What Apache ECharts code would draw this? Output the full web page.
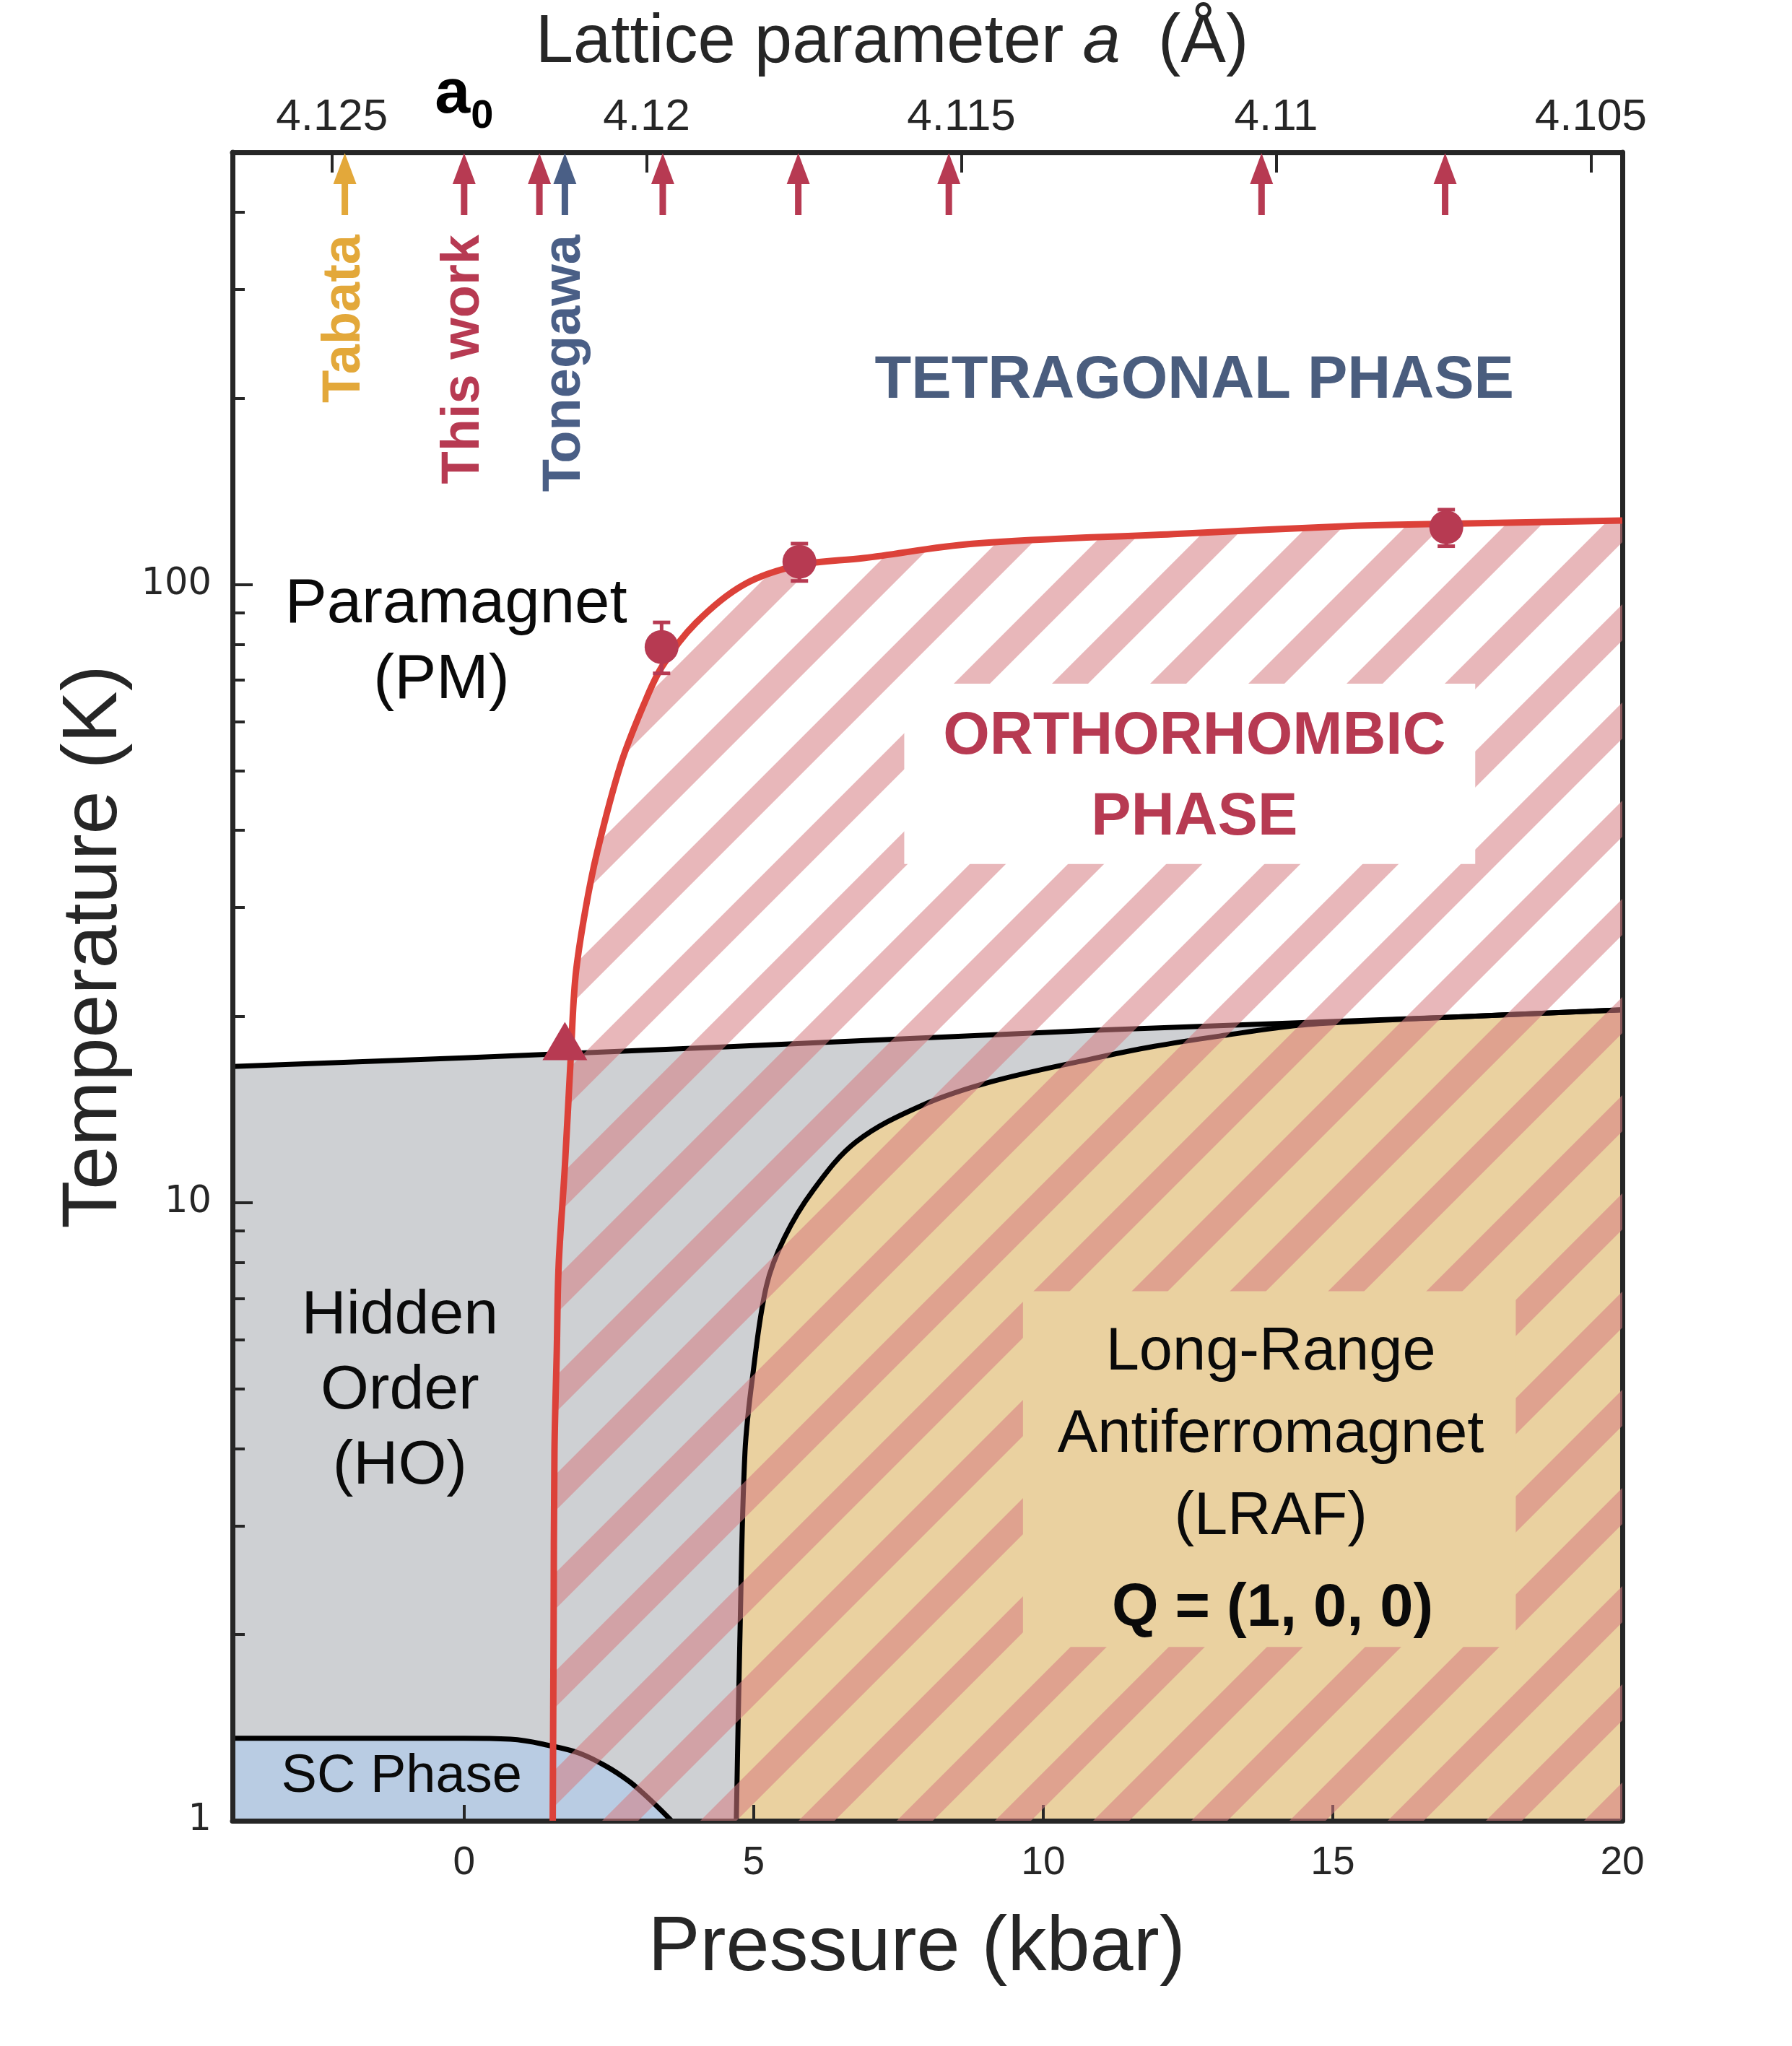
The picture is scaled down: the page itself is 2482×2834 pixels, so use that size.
<!DOCTYPE html>
<html lang="en">
<head>
<meta charset="utf-8">
<title>Pressure - temperature phase diagram</title>
<script src="https://cdn.jsdelivr.net/npm/echarts@6.0.0/dist/echarts.min.js"></script>
<style>
  html, body { margin: 0; padding: 0; background: #ffffff; }
  #chart { width: 2482px; height: 2834px; }
</style>
</head>
<body>
<div id="chart"></div>
<script>
// ---- data: pressure in kbar, temperature in K ----
const pressureRange = [-4, 20];
const temperatureRange = [1, 500];

const pressureTicks = [0, 5, 10, 15, 20];
const latticeTicks = [4.125, 4.12, 4.115, 4.11, 4.105];
const temperatureTicks = [1, 10, 100];
const temperatureMinorTicks = [2, 3, 4, 5, 6, 7, 8, 9, 20, 30, 40, 50, 60, 70, 80, 90, 200, 300, 400];

// lattice parameter a (Å) at zero pressure and its change per kbar
const latticeAtZero = 4.1229;
const latticePerKbar = -0.00092;

// phase boundaries
const hiddenOrderLine = [[-4, 16.6], [0, 17.15], [4.45, 17.85], [6.44, 18.2], [10.9, 19.0], [17.1, 19.96], [20, 20.5]];
const antiferroLine = [[4.70, 1.0], [4.76, 1.93], [4.85, 3.95], [4.99, 5.31], [5.22, 7.33], [5.53, 8.77], [6.03, 10.48],
  [6.77, 12.54], [7.89, 14.34], [9.1, 15.68], [10.8, 17.05], [11.92, 17.9], [13.16, 18.66], [14.4, 19.35],
  [15.5, 19.65], [17.1, 19.96], [20, 20.5]];
const superconductLine = [[-4, 1.36], [0, 1.36], [0.8, 1.355], [1.53, 1.32], [2.0, 1.285], [2.46, 1.224], [2.84, 1.16],
  [3.08, 1.11], [3.35, 1.051], [3.58, 1.0]];
const orthorhombicLine = [[1.53, 1.0], [1.545, 2.0], [1.56, 3.95], [1.60, 5.75], [1.633, 7.94], [1.738, 11.36],
  [1.841, 17.16], [1.924, 23.24], [2.09, 29.6], [2.30, 37], [2.70, 51], [3.09, 63.5], [3.42, 73.7], [4.0, 86.6],
  [4.83, 99.9], [5.78, 107.4], [6.9, 110.3], [8.81, 116.4], [12.25, 120.6], [15.4, 124.4], [17, 125.3], [20, 126.9]];

// measured transitions
const orthorhombicPoints = [[3.41, 79.2], [5.79, 108.8], [16.96, 123.7]];
const orthorhombicErrors = [[71.8, 86.8], [101.3, 116.4], [115.3, 132.1]];
const hiddenOrderOnset = [[1.74, 18.25]];

// pressures marked by arrows on the top axis, and where each came from
const arrowPressures = [-2.06, 0, 1.3, 1.74, 3.43, 5.77, 8.37, 13.77, 16.94];
const arrowSources = ['Tabata', 'This work', 'This work', 'Tonegawa', 'This work', 'This work', 'This work', 'This work', 'This work'];
const sourceNames = ['Tabata', 'This work', 'Tonegawa'];
const sourcePressures = [-2.06, 0, 1.74];

// blank boxes behind the two phase names
const orthorhombicLabelBox = [[7.6, 35.3], [17.46, 69.1]];
const antiferroLabelBox = [[9.65, 1.91], [18.16, 7.19]];

// ---- styles ----
const FONT = '"Liberation Sans", Arial, Helvetica, sans-serif';
const AXIS = '#262626';
const colors = {
  ho: '#CED0D3',
  lraf: '#EAD1A0',
  sc: '#B9CCE3',
  stripe: 'rgba(213,124,130,0.55)',
  orthoLine: '#DC4139',
  point: '#B73A52',
  tetra: '#4A5D7E',
  tabata: '#E3A83A',
  tonegawa: '#4A5F86'
};
const sourceColors = { 'Tabata': colors.tabata, 'This work': colors.point, 'Tonegawa': colors.tonegawa };

function latticeAt(p) {
  return latticeAtZero + latticePerKbar * p;
}

// diagonal stripes, repeated from the page origin
function hatchPattern() {
  const period = 136, stripe = 50, offset = 92;
  const c = document.createElement('canvas');
  c.width = c.height = period;
  const g = c.getContext('2d');
  g.strokeStyle = colors.stripe;
  g.lineWidth = stripe / Math.SQRT2;
  for (let k = -1; k <= 2; k++) {
    const s = offset + stripe / 2 + k * period;
    g.beginPath();
    g.moveTo(s + 30, -30);
    g.lineTo(s - period - 30, period + 30);
    g.stroke();
  }
  return { image: c, repeat: 'repeat' };
}

function boxSeries(box, fill, z) {
  const lo = box[0], hi = box[1];
  const pts = [[lo[0], lo[1]], [hi[0], lo[1]], [hi[0], hi[1]], [lo[0], hi[1]]];
  return {
    type: 'custom', silent: true, z: z,
    data: [pts[0]],
    renderItem: function (params, api) {
      return {
        type: 'polygon',
        shape: { points: pts.map(function (p) { return api.coord(p); }) },
        style: { fill: fill }
      };
    }
  };
}

// a boundary with the region under it filled down to the bottom of the plot
function phaseSeries(points, lineColor, lineWidth, fill, smooth, z) {
  return {
    type: 'line', silent: true, z: z, data: points,
    symbol: 'none', showSymbol: false, smooth: smooth,
    lineStyle: { color: lineColor, width: lineWidth, join: 'round' },
    areaStyle: { color: fill, opacity: 1, origin: 'start' }
  };
}

const P_MIN = pressureRange[0], P_MAX = pressureRange[1];
const T_MIN = temperatureRange[0], T_MAX = temperatureRange[1];

const annotations = [
  { text: 'TETRAGONAL PHASE', at: [12.61, 213], font: 'bold 83px ' + FONT, color: colors.tetra },
  { text: 'ORTHORHOMBIC\nPHASE', at: [12.61, 48.75], font: 'bold 83px ' + FONT, color: colors.point, lineHeight: 112 },
  { text: 'Paramagnet', at: [-0.14, 92.6], font: '87px ' + FONT, color: '#0a0a0a' },
  { text: '(PM)', at: [-0.39, 69.9], font: '87px ' + FONT, color: '#0a0a0a' },
  { text: 'Hidden\nOrder\n(HO)', at: [-1.11, 4.95], font: '86px ' + FONT, color: '#0a0a0a', lineHeight: 104 },
  { text: 'SC Phase', at: [-1.08, 1.175], font: '74px ' + FONT, color: '#0a0a0a' },
  { text: 'Long-Range\nAntiferromagnet\n(LRAF)', at: [13.93, 4.2], font: '83px ' + FONT, color: '#0a0a0a', lineHeight: 114 },
  { text: 'Q = (1, 0, 0)', at: [13.96, 2.196], font: 'bold 83px ' + FONT, color: '#0a0a0a' }
];

function textEl(x, y, text, font, color, extra) {
  const style = {
    text: text, font: font, fill: color,
    align: 'center', verticalAlign: 'middle', textAlign: 'center', textVerticalAlign: 'middle'
  };
  if (extra && extra.lineHeight) style.lineHeight = extra.lineHeight;
  if (extra && extra.align) { style.align = extra.align; style.textAlign = extra.align; }
  return { type: 'text', x: x, y: y, rotation: (extra && extra.rotation) || 0, style: style };
}

const chart = echarts.init(document.getElementById('chart'), null, { renderer: 'canvas' });

const option = {
  animation: false,
  backgroundColor: '#ffffff',
  textStyle: { fontFamily: FONT },
  grid: { left: 322, right: 235, top: 211, bottom: 312, containLabel: false, outerBoundsMode: 'none' },
  xAxis: [
    {
      type: 'value', position: 'bottom', min: P_MIN, max: P_MAX, z: 3,
      name: 'Pressure (kbar)', nameLocation: 'middle', nameGap: 123,
      nameTextStyle: { fontFamily: FONT, fontSize: 108, color: AXIS, padding: [0, 30, 0, 0] },
      axisLine: { show: true, onZero: false, lineStyle: { color: AXIS, width: 7 } },
      axisTick: { show: true, inside: true, length: 22, customValues: pressureTicks, lineStyle: { color: AXIS, width: 4 } },
      axisLabel: { customValues: pressureTicks, margin: 31, fontFamily: FONT, fontSize: 55, color: AXIS },
      splitLine: { show: false }
    },
    {
      type: 'value', position: 'top', inverse: true, min: latticeAt(P_MAX), max: latticeAt(P_MIN), z: 3,
      name: '{t|Lattice parameter }{i|a}{t|  (Å)}', nameLocation: 'middle', nameGap: 104,
      nameTextStyle: {
        padding: [0, 98, 0, 0],
        rich: {
          t: { fontFamily: FONT, fontSize: 94, color: AXIS },
          i: { fontFamily: FONT, fontSize: 94, fontStyle: 'italic', color: AXIS }
        }
      },
      axisLine: { show: true, onZero: false, lineStyle: { color: AXIS, width: 7 } },
      axisTick: { show: true, inside: true, length: 28, customValues: latticeTicks, lineStyle: { color: AXIS, width: 4 } },
      axisLabel: {
        customValues: latticeTicks, margin: 17, fontFamily: FONT, fontSize: 62, color: AXIS,
        formatter: function (v) { return String(parseFloat(Number(v).toFixed(3))); }
      },
      splitLine: { show: false }
    }
  ],
  yAxis: [
    {
      type: 'log', logBase: 10, min: T_MIN, max: T_MAX, position: 'left', z: 3,
      name: 'Temperature (K)', nameLocation: 'middle', nameGap: 132, nameRotate: 90,
      nameTextStyle: { fontFamily: FONT, fontSize: 108, color: AXIS, padding: [0, 0, 0, 110] },
      axisLine: { show: true, onZero: false, lineStyle: { color: AXIS, width: 7 } },
      axisTick: { show: true, inside: true, length: 28, customValues: temperatureTicks, lineStyle: { color: AXIS, width: 4 } },
      axisLabel: { customValues: temperatureTicks, margin: 29, fontFamily: '"DejaVu Sans", sans-serif', fontSize: 51, color: AXIS },
      splitLine: { show: false }
    },
    {
      type: 'log', logBase: 10, min: T_MIN, max: T_MAX, position: 'left', z: 3,
      axisLine: { show: false, onZero: false },
      axisTick: { show: true, inside: true, length: 17, customValues: temperatureMinorTicks, lineStyle: { color: AXIS, width: 4 } },
      axisLabel: { show: false },
      splitLine: { show: false }
    },
    {
      type: 'log', logBase: 10, min: T_MIN, max: T_MAX, position: 'right', z: 3,
      axisLine: { show: true, onZero: false, lineStyle: { color: AXIS, width: 7 } },
      axisTick: { show: false },
      axisLabel: { show: false },
      splitLine: { show: false }
    }
  ],
  series: [
    // filled phases with their black boundaries
    phaseSeries(hiddenOrderLine, '#000000', 7, colors.ho, false, 2),
    phaseSeries(antiferroLine, '#000000', 7, colors.lraf, 0.35, 2),
    phaseSeries(superconductLine, '#000000', 7, colors.sc, 0.4, 2),
    // orthorhombic hatch and its red boundary, above axes and black lines
    phaseSeries(orthorhombicLine, colors.orthoLine, 9, hatchPattern(), 0.35, 4),
    boxSeries(orthorhombicLabelBox, '#ffffff', 5),
    boxSeries(antiferroLabelBox, colors.lraf, 5),
    // error bars
    {
      type: 'custom', silent: true, z: 7,
      data: orthorhombicPoints.map(function (p, i) { return [p[0], p[1], orthorhombicErrors[i][0], orthorhombicErrors[i][1]]; }),
      renderItem: function (params, api) {
        const lo = api.coord([api.value(0), api.value(2)]);
        const hi = api.coord([api.value(0), api.value(3)]);
        const st = { stroke: colors.point, lineWidth: 5 };
        return {
          type: 'group',
          children: [
            { type: 'line', shape: { x1: lo[0], y1: lo[1], x2: hi[0], y2: hi[1] }, style: st },
            { type: 'line', shape: { x1: lo[0] - 12, y1: lo[1], x2: lo[0] + 12, y2: lo[1] }, style: st },
            { type: 'line', shape: { x1: hi[0] - 12, y1: hi[1], x2: hi[0] + 12, y2: hi[1] }, style: st }
          ]
        };
      }
    },
    {
      type: 'scatter', silent: true, z: 7, data: orthorhombicPoints,
      symbol: 'circle', symbolSize: 47, itemStyle: { color: colors.point, opacity: 1 }
    },
    {
      type: 'scatter', silent: true, z: 7, data: hiddenOrderOnset,
      symbol: 'triangle', symbolSize: [62, 53], itemStyle: { color: colors.point, opacity: 1 }
    },
    // arrows hanging from the top axis
    {
      type: 'custom', silent: true, z: 8,
      data: arrowPressures.map(function (p, i) { return [p, T_MAX, i]; }),
      renderItem: function (params, api) {
        const tip = api.coord([api.value(0), T_MAX]);
        const color = sourceColors[arrowSources[api.value(2)]];
        const x = tip[0], y = tip[1];
        return {
          type: 'group',
          children: [
            { type: 'rect', shape: { x: x - 4.5, y: y + 36, width: 9, height: 51 }, style: { fill: color } },
            { type: 'polygon', shape: { points: [[x, y + 1], [x - 16, y + 44], [x + 16, y + 44]] }, style: { fill: color } }
          ]
        };
      }
    },
    // source names under the arrows
    {
      type: 'custom', silent: true, z: 8,
      data: sourcePressures.map(function (p, i) { return [p, T_MAX, i]; }),
      renderItem: function (params, api) {
        const top = api.coord([api.value(0), T_MAX]);
        const name = sourceNames[api.value(2)];
        return textEl(top[0], top[1] + 114, name, 'bold 74px ' + FONT, sourceColors[name],
          { rotation: Math.PI / 2, align: 'right' });
      }
    },
    // a0 marker above the zero-pressure point
    {
      type: 'custom', silent: true, z: 8,
      data: [[0, T_MAX]],
      renderItem: function (params, api) {
        const p = api.coord([api.value(0), T_MAX]);
        return {
          type: 'group',
          children: [
            textEl(p[0] - 16, p[1] - 79, 'a', 'bold 88px ' + FONT, '#000000'),
            textEl(p[0] + 25, p[1] - 49, '0', 'bold 56px ' + FONT, '#000000')
          ]
        };
      }
    },
    // phase names
    {
      type: 'custom', silent: true, z: 8,
      data: annotations.map(function (a) { return a.at; }),
      renderItem: function (params, api) {
        const a = annotations[params.dataIndex];
        const p = api.coord(a.at);
        return textEl(p[0], p[1], a.text, a.font, a.color, { lineHeight: a.lineHeight });
      }
    }
  ]
};

chart.setOption(option);
</script>
</body>
</html>
